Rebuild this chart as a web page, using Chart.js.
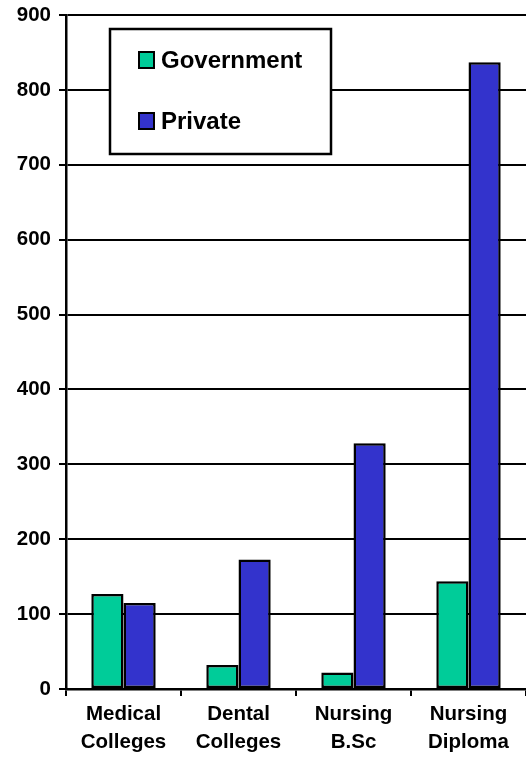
<!DOCTYPE html>
<html>
<head>
<meta charset="utf-8">
<script src="https://cdn.jsdelivr.net/npm/chart.js@4/dist/chart.umd.min.js"></script>
<style>
  html, body { margin: 0; padding: 0; background: #fff; }
  #wrap { width: 526px; height: 763px; position: relative; }
</style>
</head>
<body>
<div id="wrap"><canvas id="c" width="526" height="763"></canvas></div>
<script>
// Institutions by sector
const categories = [["Medical", "Colleges"], ["Dental", "Colleges"], ["Nursing", "B.Sc"], ["Nursing", "Diploma"]];
const governmentValues = [127, 32, 22, 144];
const privateValues = [115, 173, 328, 837];
const yTicks = [0, 100, 200, 300, 400, 500, 600, 700, 800, 900];

const FONT = "'Liberation Sans', Arial, sans-serif";

// Boxed legend drawn inside the plot area
const boxLegend = {
  id: 'boxLegend',
  afterDraw(chart) {
    const ctx = chart.ctx;
    ctx.save();
    ctx.fillStyle = '#fff';
    ctx.strokeStyle = '#000';
    ctx.lineWidth = 2.5;
    ctx.fillRect(110, 29, 221, 125);
    ctx.strokeRect(110, 29, 221, 125);
    const rows = [60, 121];
    chart.data.datasets.forEach((ds, i) => {
      const y = rows[i];
      ctx.fillStyle = ds.backgroundColor;
      ctx.fillRect(139, y - 8, 15, 16);
      ctx.lineWidth = 2;
      ctx.strokeRect(139, y - 8, 15, 16);
      ctx.fillStyle = '#000';
      ctx.font = 'bold 24px ' + FONT;
      ctx.textBaseline = 'middle';
      ctx.textAlign = 'left';
      ctx.fillText(ds.label, 161, y + 1);
    });
    ctx.restore();
  }
};

new Chart(document.getElementById('c'), {
  type: 'bar',
  data: {
    labels: categories,
    datasets: [
      { label: 'Government', data: governmentValues, backgroundColor: '#00CC99', borderColor: '#000', borderWidth: 2.5, borderSkipped: false },
      { label: 'Private', data: privateValues, backgroundColor: '#3333CC', borderColor: '#000', borderWidth: 2.5, borderSkipped: false }
    ]
  },
  options: {
    responsive: false,
    animation: false,
    layout: { padding: { top: 15, right: 0, left: 0, bottom: 0 } },
    datasets: { bar: { categoryPercentage: 0.56, barPercentage: 1.0 } },
    plugins: { legend: { display: false }, tooltip: { enabled: false } },
    scales: {
      x: {
        offset: true,
        grid: { display: true, drawOnChartArea: false, drawTicks: true, tickLength: 7, color: '#000', lineWidth: 2, offset: true },
        border: { display: true, color: '#000', width: 2.5 },
        ticks: { color: '#000', font: { family: FONT, size: 20.5, weight: 'bold', lineHeight: 1.35 }, padding: 5, maxRotation: 0, autoSkip: false },
        afterFit(scale) { scale.height = 74; }
      },
      y: {
        min: 0, max: 900,
        afterBuildTicks(scale) { scale.ticks = yTicks.map(v => ({ value: v })); },
        grid: { color: '#000', lineWidth: 2, drawTicks: true, tickLength: 7 },
        border: { display: true, color: '#000', width: 2.5 },
        ticks: { color: '#000', font: { family: FONT, size: 20.5, weight: 'bold' }, padding: 8 },
        afterFit(scale) {
          scale.width = 66;
          scale.paddingTop = 0;
          scale.paddingBottom = 0;
        }
      }
    }
  },
  plugins: [boxLegend]
});
</script>
</body>
</html>
